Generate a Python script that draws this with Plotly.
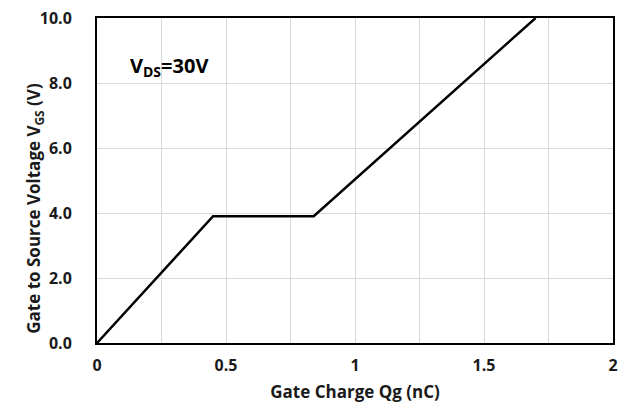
import plotly.graph_objects as go

# Gate charge curve
qg_nc = [0.0, 0.45, 0.84, 1.70]
vgs_v = [0.0, 3.9, 3.9, 10.0]

x_ticks = [0, 0.5, 1, 1.5, 2]
x_tick_labels = ["0", "0.5", "1", "1.5", "2"]
y_ticks = [0, 2, 4, 6, 8, 10]
y_tick_labels = ["0.0", "2.0", "4.0", "6.0", "8.0", "10.0"]

font_family = "Open Sans, Noto Sans, sans-serif"
text_color = "#1a1a1a"

fig = go.Figure()
fig.add_trace(go.Scatter(
    x=qg_nc, y=vgs_v, mode="lines",
    line=dict(color="#000000", width=2.5),
    showlegend=False, cliponaxis=True,
))

fig.update_layout(
    width=634, height=403, autosize=False,
    margin=dict(l=89, r=29, t=10, b=68, pad=0),
    paper_bgcolor="white", plot_bgcolor="white",
    font=dict(family=font_family, size=16, color=text_color),
    xaxis=dict(
        range=[0, 2], tickvals=x_ticks, ticktext=x_tick_labels, automargin=False,
        showgrid=True, gridcolor="#d9d9d9", gridwidth=1,
        minor=dict(dtick=0.25, tick0=0, showgrid=True, gridcolor="#d9d9d9", gridwidth=1),
        showline=True, linecolor="#000000", linewidth=2, mirror=True,
        ticks="", zeroline=False, ticklabelstandoff=7, ticklabeloverflow="allow",
        tickfont=dict(family=font_family, size=16, color=text_color, weight="bold"),
        title=dict(text="Gate Charge Qg (nC)", standoff=11,
                   font=dict(family=font_family, size=17, color=text_color, weight="bold")),
    ),
    yaxis=dict(
        range=[0, 10], tickvals=y_ticks, ticktext=y_tick_labels, automargin=False,
        showgrid=True, gridcolor="#d9d9d9", gridwidth=1,
        showline=True, linecolor="#000000", linewidth=2, mirror=True,
        ticks="", zeroline=False, ticklabelstandoff=20, ticklabeloverflow="allow",
        tickfont=dict(family=font_family, size=16, color=text_color, weight="bold"),
    ),
    annotations=[
        dict(
            x=0.12, y=8.5, xref="x", yref="y", xanchor="left", yanchor="middle",
            text="V<sub>DS</sub>=30V", showarrow=False,
            font=dict(family=font_family, size=20, color="#000000", weight="bold"),
        ),
        dict(
            x=0, y=0.45, xref="paper", yref="paper", xshift=-62, yshift=-12,
            xanchor="center", yanchor="middle", textangle=-90,
            text="Gate to Source Voltage V<sub>GS</sub> (V)", showarrow=False,
            font=dict(family=font_family, size=17, color=text_color, weight="bold"),
        ),
    ],
)

fig.write_html("out.html")
